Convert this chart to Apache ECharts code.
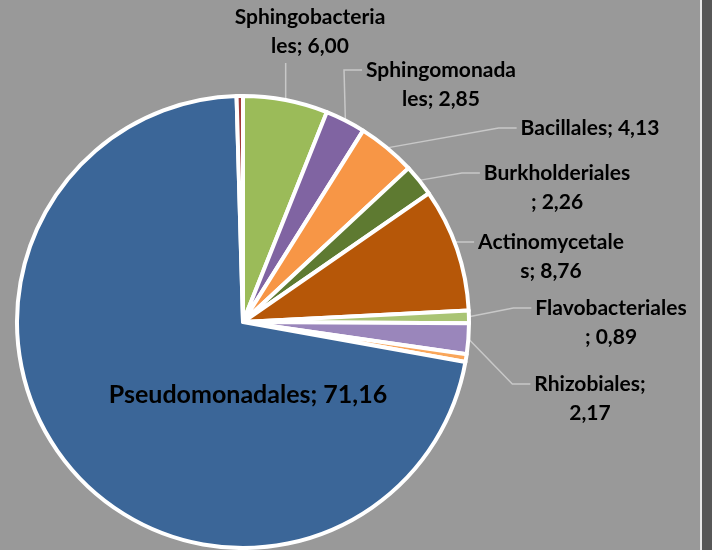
<!DOCTYPE html>
<html>
<head>
<meta charset="utf-8">
<script src="https://cdn.jsdelivr.net/npm/echarts@6/dist/echarts.min.js"></script>
<style>
html, body { margin: 0; padding: 0; background: #575757; }
#grafico { width: 700px; height: 550px; background: #999999; border-right: 2px solid #e8e8e8; }
</style>
</head>
<body>
<div id="grafico"></div>
<script>
// ordenes bacterianos (%), en el orden de las agujas del reloj desde las 12
var ordenes = ['Sphingobacteriales', 'Sphingomonadales', 'Bacillales', 'Burkholderiales',
    'Actinomycetales', 'Flavobacteriales', 'Rhizobiales', 'Otros A', 'Pseudomonadales', 'Otros B'];
var valores = [6.00, 2.85, 4.13, 2.26, 8.76, 0.89, 2.17, 0.55, 71.16, 0.45];
var colores = ['#9bbb59', '#8064a2', '#f79646', '#5e7a31', '#b65708',
    '#a9c474', '#9a86bb', '#f9a65a', '#3b6698', '#a23a36'];
// caracteres de la primera linea de cada etiqueta (0 = sin corte)
var cortes = [15, 13, 0, 15, 14, 16, 12, 0, 0, 0];
var conEtiqueta = [true, true, true, true, true, true, true, false, true, false];
// centro de cada etiqueta
var posEtiquetas = [[310, 32], [441, 85], [590, 128], [557, 188], [551, 257],
    [611, 323], [590, 399], null, [248, 395], null];

function textoEtiqueta(i) {
    var t = ordenes[i] + '; ' + valores[i].toFixed(2).replace('.', ',');
    if (cortes[i] > 0) {
        t = t.substring(0, cortes[i]) + '\n' + t.substring(cortes[i]).trim();
    }
    return t;
}

var datos = [];
for (var i = 0; i < ordenes.length; i++) {
    var grande = ordenes[i] === 'Pseudomonadales';
    datos.push({
        name: ordenes[i],
        value: valores[i],
        itemStyle: { color: colores[i] },
        label: { show: conEtiqueta[i], fontSize: grande ? 25 : 21, position: grande ? 'inside' : 'outside' },
        labelLine: { show: conEtiqueta[i] && !grande }
    });
}

var chart = echarts.init(document.getElementById('grafico'));
chart.setOption({
    backgroundColor: '#999999',
    animation: false,
    series: [{
        type: 'pie',
        center: [243, 322],
        radius: 226,
        startAngle: 90,
        clockwise: true,
        avoidLabelOverlap: false,
        itemStyle: { borderColor: '#ffffff', borderWidth: 4 },
        label: {
            color: '#000000',
            fontFamily: 'Lato',
            fontWeight: 'bold',
            fontSize: 21,
            lineHeight: 29,
            align: 'center',
            formatter: function (p) { return textoEtiqueta(p.dataIndex); }
        },
        labelLine: {
            lineStyle: { color: '#c8c8c8', width: 1.5 }
        },
        labelLayout: function (p) {
            var pos = posEtiquetas[p.dataIndex];
            if (!pos) return {};
            var out = { x: pos[0], y: pos[1], align: 'center', verticalAlign: 'middle' };
            var pts = p.labelLinePoints;
            if (pts && pts.length) {
                var w = p.labelRect.width, h = p.labelRect.height;
                var x0 = pos[0] - w / 2, y0 = pos[1] - h / 2;
                var s = pts[0];
                var fin;
                if (s[0] < x0) {
                    var ly = y0 + (cortes[p.dataIndex] > 0 ? 14 : h / 2);
                    fin = [x0 - 4, ly];
                    var codo = [x0 - 22, ly];
                    out.labelLinePoints = [s, codo, fin];
                } else {
                    fin = [Math.min(Math.max(s[0], x0), x0 + w), y0 + h + 2];
                    out.labelLinePoints = [s, fin, fin];
                }
            }
            return out;
        },
        data: datos
    }]
});
</script>
</body>
</html>
